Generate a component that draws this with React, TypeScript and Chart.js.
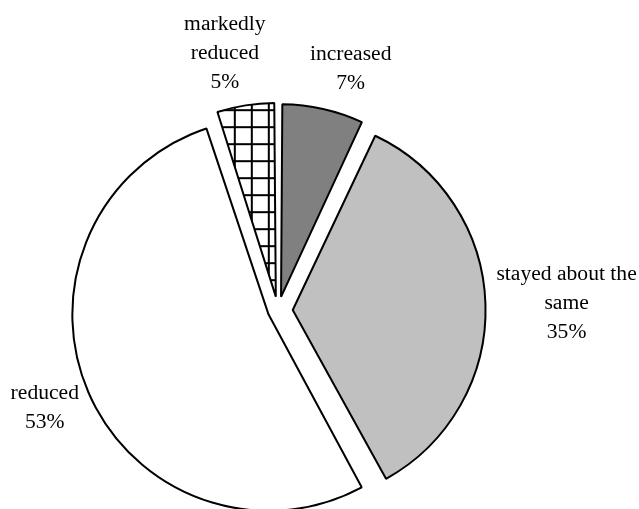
import React, { useEffect, useRef } from "react";
import { Chart, registerables } from "chart.js";

Chart.register(...registerables);

// ---- data ----
const categories = ["increased", "stayed about the same", "reduced", "markedly reduced"];
const categoryLines = [["increased"], ["stayed about the", "same"], ["reduced"], ["markedly", "reduced"]];
const values = [7, 35, 53, 5];

// ---- style ----
const sliceColors = ["#808080", "#C0C0C0", "#FFFFFF", "PATTERN"];
const explode = [56, 59, 41, 56]; // Chart.js offset (px*4)
const radiusAdjust = [-1.5, 4, 0, -2];
const labelNudge = [
  [17, -4],
  [3, 1],
  [-5, 1],
  [-13, -1],
];
const FONT_SIZE = 21.6;
const LINE_H = 29;
const LABEL_GAP = 8;
const FONT = `${FONT_SIZE}px "Liberation Serif", "Times New Roman", serif`;

function makeGridPattern(ctx: CanvasRenderingContext2D): CanvasPattern | string {
  const tile = document.createElement("canvas");
  const s = 17;
  tile.width = s;
  tile.height = s;
  const t = tile.getContext("2d")!;
  t.fillStyle = "#FFFFFF";
  t.fillRect(0, 0, s, s);
  t.fillStyle = "#000000";
  t.fillRect(0, 0, 2, s);
  t.fillRect(0, 0, s, 2);
  const p = ctx.createPattern(tile, "repeat");
  if (!p) return "#FFFFFF";
  try {
    p.setTransform(new DOMMatrix([1, 0, 0, 1, 15, 4]));
  } catch (e) {}
  return p;
}

const radiusPlugin = {
  id: "sliceRadius",
  afterDatasetsUpdate(chart: any) {
    const meta = chart.getDatasetMeta(0);
    meta.data.forEach((arc: any, i: number) => {
      arc.outerRadius = arc.outerRadius + radiusAdjust[i];
    });
  },
};

const labelPlugin = {
  id: "sliceLabels",
  afterDatasetsDraw(chart: any) {
    const meta = chart.getDatasetMeta(0);
    const ctx: CanvasRenderingContext2D = chart.ctx;
    ctx.save();
    ctx.font = FONT;
    ctx.fillStyle = "#000000";
    ctx.textAlign = "center";
    ctx.textBaseline = "middle";
    meta.data.forEach((arc: any, i: number) => {
      const { x, y, startAngle, endAngle, outerRadius, circumference } = arc.getProps(
        ["x", "y", "startAngle", "endAngle", "outerRadius", "circumference"],
        true
      );
      const off = explode[i] / 4;
      const half = (startAngle + endAngle) / 2;
      const fix = 1 - Math.sin(Math.min(Math.PI, circumference));
      const dx = Math.cos(half);
      const dy = Math.sin(half);
      const cx = x + dx * off;
      const cy = y + dy * off;
      const r = outerRadius + off * fix + LABEL_GAP;
      const lines = [...categoryLines[i], `${values[i]}%`];
      const w = Math.max(...lines.map((l) => ctx.measureText(l).width));
      const h = lines.length * LINE_H;
      const bx = cx + dx * r + (dx * w) / 2 + labelNudge[i][0];
      const by = cy + dy * r + (dy * h) / 2 + labelNudge[i][1];
      lines.forEach((l, k) => {
        ctx.fillText(l, bx, by - h / 2 + LINE_H / 2 + k * LINE_H);
      });
    });
    ctx.restore();
  },
};

export default function App() {
  const canvasRef = useRef<HTMLCanvasElement | null>(null);

  useEffect(() => {
    const canvas = canvasRef.current;
    if (!canvas) return;
    const ctx = canvas.getContext("2d")!;
    const pattern = makeGridPattern(ctx);
    const bg = sliceColors.map((c) => (c === "PATTERN" ? pattern : c));
    const chart = new Chart(canvas, {
      type: "pie",
      data: {
        labels: categories,
        datasets: [
          {
            data: values,
            backgroundColor: bg as any,
            borderColor: "#000000",
            borderWidth: 2,
            offset: explode,
            radius: 186,
          } as any,
        ],
      },
      options: {
        animation: false,
        responsive: false,
        maintainAspectRatio: false,
        events: [],
        layout: { padding: { left: 0, right: 83, top: 112, bottom: 0 } },
        plugins: {
          legend: { display: false },
          tooltip: { enabled: false },
        },
      },
      plugins: [radiusPlugin, labelPlugin],
    });
    return () => chart.destroy();
  }, []);

  return (
    <div style={{ position: "fixed", left: 0, top: 0, width: 639, height: 509, background: "#FFFFFF" }}>
      <canvas ref={canvasRef} width={639} height={509} style={{ width: 639, height: 509, display: "block" }} />
    </div>
  );
}
